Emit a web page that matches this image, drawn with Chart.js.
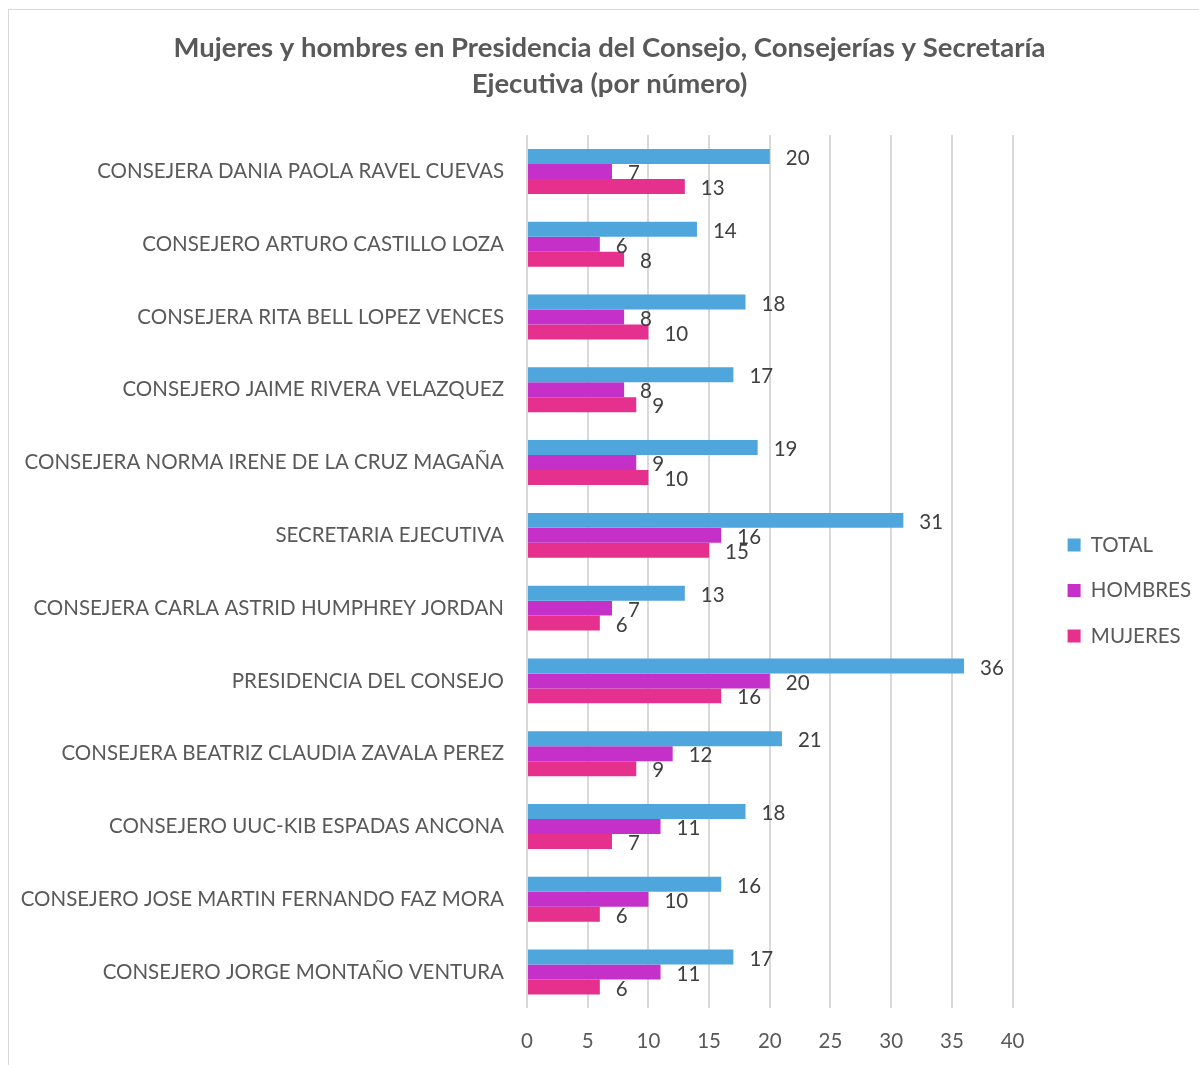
<!DOCTYPE html>
<html>
<head>
<meta charset="utf-8">
<script src="https://cdn.jsdelivr.net/npm/chart.js@4/dist/chart.umd.min.js"></script>
<style>
  body { margin: 0; background: #fff; }
  #frame { position: absolute; left: 8px; top: 9px; width: 1300px; height: 1200px; border: 1px solid #d9d9d9; }
  #wrap { position: absolute; left: 0; top: 0; width: 1199px; height: 1065px; }
</style>
</head>
<body>
<div id="frame"></div>
<div id="wrap"><canvas id="chart"></canvas></div>
<script>
// Categories, top to bottom
const categories = [
    "CONSEJERA DANIA PAOLA RAVEL CUEVAS",
    "CONSEJERO ARTURO CASTILLO LOZA",
    "CONSEJERA RITA BELL LOPEZ VENCES",
    "CONSEJERO JAIME RIVERA VELAZQUEZ",
    "CONSEJERA NORMA IRENE DE LA CRUZ MAGAÑA",
    "SECRETARIA EJECUTIVA",
    "CONSEJERA CARLA ASTRID HUMPHREY JORDAN",
    "PRESIDENCIA DEL CONSEJO",
    "CONSEJERA BEATRIZ CLAUDIA ZAVALA PEREZ",
    "CONSEJERO UUC-KIB ESPADAS ANCONA",
    "CONSEJERO JOSE MARTIN FERNANDO FAZ MORA",
    "CONSEJERO JORGE MONTAÑO VENTURA",
];

const total = [20, 14, 18, 17, 19, 31, 13, 36, 21, 18, 16, 17];
const hombres = [7, 6, 8, 8, 9, 16, 7, 20, 12, 11, 10, 11];
const mujeres = [13, 8, 10, 9, 10, 15, 6, 16, 9, 7, 6, 6];

const FONT = "Lato, 'Open Sans', sans-serif";

// Value labels drawn just past each bar's end
const valueLabels = {
    id: "valueLabels",
    afterDatasetsDraw(chart) {
        const ctx = chart.ctx;
        ctx.save();
        ctx.font = "20.5px " + FONT;
        ctx.fillStyle = "#404040";
        ctx.textBaseline = "middle";
        ctx.textAlign = "left";
        chart.data.datasets.forEach((ds, i) => {
            chart.getDatasetMeta(i).data.forEach((bar, j) => {
                ctx.fillText(ds.data[j], bar.x + 16, bar.y + 2);
            });
        });
        ctx.restore();
    },
};

// Leave a wider gap between the plot and the legend, and lower the legend a bit
const GAP = 28;
const legendGap = {
    id: "legendGap",
    afterInit(chart) {
        const legend = chart.legend;
        const fit = legend.fit.bind(legend);
        legend.fit = function () { fit(); this.width += GAP; };
    },
    afterLayout(chart) {
        const legend = chart.legend;
        legend.left += GAP + 2;
        legend.top += 38;
        legend.bottom += 38;
    },
};

const ctx = document.getElementById("chart").getContext("2d");
new Chart(ctx, {
    type: "bar",
    data: {
        labels: categories,
        datasets: [
            { label: "TOTAL", data: total, backgroundColor: "#4ea6dc" },
            { label: "HOMBRES", data: hombres, backgroundColor: "#c430c8" },
            { label: "MUJERES", data: mujeres, backgroundColor: "#e5308e" },
        ],
    },
    options: {
        indexAxis: "y",
        responsive: true,
        maintainAspectRatio: false,
        animation: false,
        categoryPercentage: 0.617,
        barPercentage: 1,
        layout: { padding: { top: 30, left: 20, right: 0, bottom: -10 } },
        scales: {
            x: {
                min: 0,
                max: 40,
                ticks: { stepSize: 5, color: "#595959", font: { size: 20.5, family: FONT }, padding: 21 },
                grid: { color: "#d9d9d9", lineWidth: 2, drawTicks: false },
                border: { display: false },
            },
            y: {
                ticks: { color: "#595959", font: { size: 20.5, family: FONT }, padding: 23 },
                grid: { display: false, drawTicks: false },
                border: { display: false },
                afterFit(scale) { scale.width = 507; },
            },
        },
        plugins: {
            title: {
                display: true,
                text: ["Mujeres y hombres en Presidencia del Consejo, Consejerías y Secretaría", "Ejecutiva (por número)"],
                color: "#595959",
                font: { size: 27.5, weight: "bold", family: FONT, lineHeight: 1.31 },
                padding: { top: 0, bottom: 33 },
            },
            legend: {
                position: "right",
                labels: {
                    color: "#595959",
                    font: { size: 20.5, family: FONT },
                    boxWidth: 13,
                    boxHeight: 13,
                    padding: 25,
                },
            },
            tooltip: { enabled: false },
        },
    },
    plugins: [valueLabels, legendGap],
});
</script>
</body>
</html>
